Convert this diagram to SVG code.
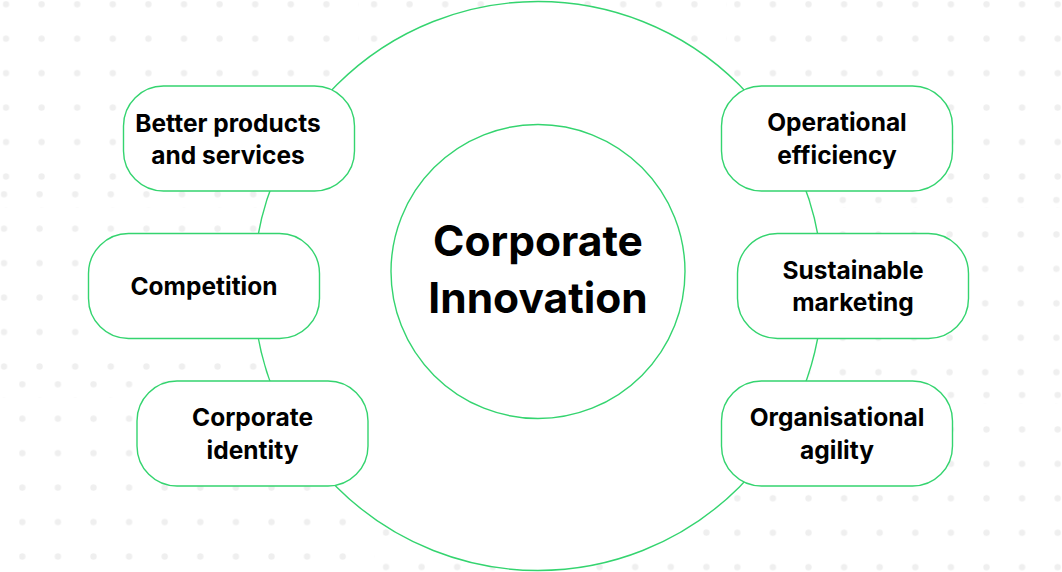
<svg xmlns="http://www.w3.org/2000/svg" width="1062" height="572" viewBox="0 0 1062 572">
  <defs>
    <pattern id="dots" patternUnits="userSpaceOnUse" width="35.6" height="34.45">
      <circle cx="3.5" cy="3.5" r="3.2" fill="#efefef"/>
    </pattern>
    <style>
      .dotpatch { fill: url(#dots); }
      .ring { fill: #ffffff; stroke: #34d46f; stroke-width: 1.4; }
      .box { fill: #ffffff; stroke: #34d46f; stroke-width: 1.4; }
      .lbl { font-family: Inter, "Liberation Sans", sans-serif; font-weight: 700; font-size: 24.5px; fill: #000000; text-anchor: middle; }
      .title { font-family: Inter, "Liberation Sans", sans-serif; font-weight: 700; font-size: 42.5px; fill: #000000; text-anchor: middle; }
    </style>
  </defs>
  <rect x="0" y="0" width="1062" height="572" fill="#ffffff"/>
  <g id="background-dots">
    <rect class="dotpatch" transform="translate(2.5,0.8)" width="356" height="206.7"/>
    <rect class="dotpatch" transform="translate(370.5,0.8)" width="356" height="206.7"/>
    <rect class="dotpatch" transform="translate(733.8,0.8)" width="356" height="206.7"/>
    <rect class="dotpatch" transform="translate(0.5,190.8)" width="356" height="206.7"/>
    <rect class="dotpatch" transform="translate(732.5,196.5)" width="356" height="206.7"/>
    <rect class="dotpatch" transform="translate(18.8,380.8)" width="356" height="206.7"/>
    <rect class="dotpatch" transform="translate(382.5,391.3)" width="356" height="206.7"/>
    <rect class="dotpatch" transform="translate(733.8,391.5)" width="356" height="206.7"/>
  </g>
  <g id="connectors">
    <circle class="ring" cx="538" cy="286" r="284.5"/>
  </g>
  <g id="center-node">
    <circle class="ring" cx="538" cy="271.5" r="147"/>
    <text class="title" x="538" y="256">Corporate</text>
    <text class="title" x="538" y="313">Innovation</text>
  </g>
  <g id="node-better-products">
    <rect class="box" x="123.5" y="86" width="231" height="105" rx="40"/>
    <text class="lbl" x="228" y="131.5">Better products</text>
    <text class="lbl" x="228" y="163.5">and services</text>
  </g>
  <g id="node-competition">
    <rect class="box" x="88.5" y="233.5" width="231" height="105" rx="40"/>
    <text class="lbl" x="204" y="295">Competition</text>
  </g>
  <g id="node-corporate-identity">
    <rect class="box" x="137" y="381" width="231" height="105" rx="40"/>
    <text class="lbl" x="252.5" y="426">Corporate</text>
    <text class="lbl" x="252.5" y="458.5">identity</text>
  </g>
  <g id="node-operational-efficiency">
    <rect class="box" x="721.5" y="86" width="231" height="105" rx="40"/>
    <text class="lbl" x="837" y="131">Operational</text>
    <text class="lbl" x="837" y="163.5">efficiency</text>
  </g>
  <g id="node-sustainable-marketing">
    <rect class="box" x="737.5" y="233.5" width="231" height="105" rx="40"/>
    <text class="lbl" x="853" y="278.5">Sustainable</text>
    <text class="lbl" x="853" y="311">marketing</text>
  </g>
  <g id="node-organisational-agility">
    <rect class="box" x="721.5" y="381" width="231" height="105" rx="40"/>
    <text class="lbl" x="837" y="426">Organisational</text>
    <text class="lbl" x="837" y="458.5">agility</text>
  </g>
</svg>
